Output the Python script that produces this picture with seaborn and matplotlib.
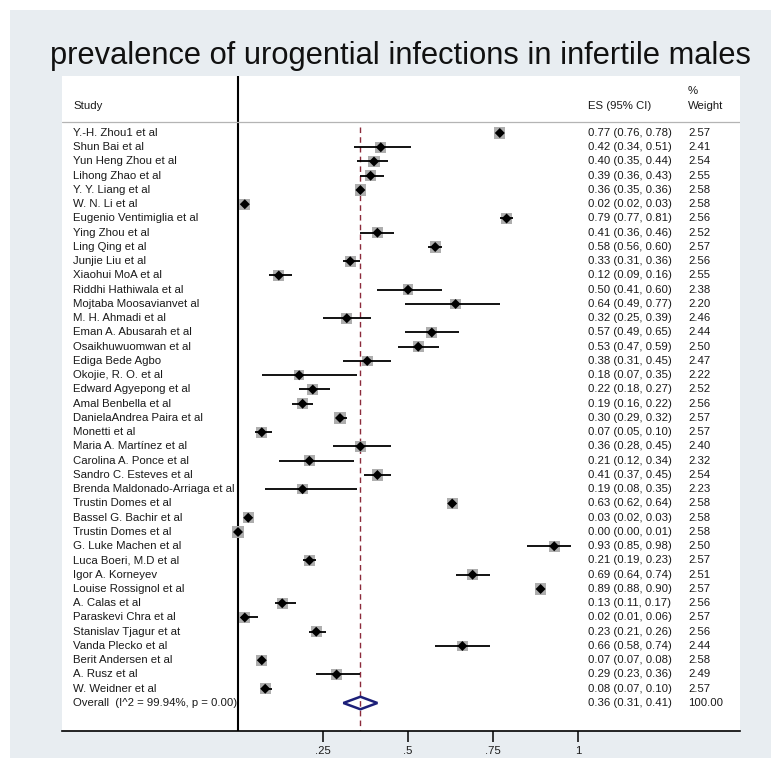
import numpy as np
import pandas as pd
import matplotlib
matplotlib.use("Agg")
import matplotlib.pyplot as plt
from matplotlib.patches import Polygon, Rectangle
import seaborn as sns

# ---------------- data ----------------
studies = [
    "Y.-H. Zhou1 et al", "Shun Bai et al", "Yun Heng Zhou et al", "Lihong Zhao et al",
    "Y. Y. Liang et al", "W. N. Li et al", "Eugenio Ventimiglia et al", "Ying Zhou et al",
    "Ling Qing et al", "Junjie Liu et al", "Xiaohui MoA et al", "Riddhi Hathiwala et al",
    "Mojtaba Moosavianvet al", "M. H. Ahmadi et al", "Eman A. Abusarah et al",
    "Osaikhuwuomwan et al", "Ediga Bede Agbo", "Okojie, R. O. et al", "Edward Agyepong et al",
    "Amal Benbella et al", "DanielaAndrea Paira et al", "Monetti et al",
    "Maria A. Martínez et al", "Carolina A. Ponce et al", "Sandro C. Esteves et al",
    "Brenda Maldonado-Arriaga et al", "Trustin Domes et al", "Bassel G. Bachir et al",
    "Trustin Domes et al", "G. Luke Machen et al", "Luca Boeri, M.D et al", "Igor A. Korneyev",
    "Louise Rossignol et al", "A. Calas et al", "Paraskevi Chra et al", "Stanislav Tjagur et at",
    "Vanda Plecko et al", "Berit Andersen et al", "A. Rusz et al", "W. Weidner et al",
]
es = [0.77, 0.42, 0.40, 0.39, 0.36, 0.02, 0.79, 0.41, 0.58, 0.33, 0.12, 0.50, 0.64, 0.32,
      0.57, 0.53, 0.38, 0.18, 0.22, 0.19, 0.30, 0.07, 0.36, 0.21, 0.41, 0.19, 0.63, 0.03,
      0.00, 0.93, 0.21, 0.69, 0.89, 0.13, 0.02, 0.23, 0.66, 0.07, 0.29, 0.08]
ci_low = [0.76, 0.34, 0.35, 0.36, 0.35, 0.02, 0.77, 0.36, 0.56, 0.31, 0.09, 0.41, 0.49, 0.25,
          0.49, 0.47, 0.31, 0.07, 0.18, 0.16, 0.29, 0.05, 0.28, 0.12, 0.37, 0.08, 0.62, 0.02,
          0.00, 0.85, 0.19, 0.64, 0.88, 0.11, 0.01, 0.21, 0.58, 0.07, 0.23, 0.07]
ci_high = [0.78, 0.51, 0.44, 0.43, 0.36, 0.03, 0.81, 0.46, 0.60, 0.36, 0.16, 0.60, 0.77, 0.39,
           0.65, 0.59, 0.45, 0.35, 0.27, 0.22, 0.32, 0.10, 0.45, 0.34, 0.45, 0.35, 0.64, 0.03,
           0.01, 0.98, 0.23, 0.74, 0.90, 0.17, 0.06, 0.26, 0.74, 0.08, 0.36, 0.10]
weights = [2.57, 2.41, 2.54, 2.55, 2.58, 2.58, 2.56, 2.52, 2.57, 2.56, 2.55, 2.38, 2.20, 2.46,
           2.44, 2.50, 2.47, 2.22, 2.52, 2.56, 2.57, 2.57, 2.40, 2.32, 2.54, 2.23, 2.58, 2.58,
           2.58, 2.50, 2.57, 2.51, 2.57, 2.56, 2.57, 2.56, 2.44, 2.58, 2.49, 2.57]
overall_label = "Overall  (I^2 = 99.94%, p = 0.00)"
overall_es, overall_low, overall_high, overall_weight = 0.36, 0.31, 0.41, 100.00
title = "prevalence of urogential infections in infertile males"
xtick_values = [0.25, 0.5, 0.75, 1.0]
xtick_labels = [".25", ".5", ".75", "1"]

df = pd.DataFrame({"study": studies, "es": es, "lo": ci_low, "hi": ci_high, "w": weights})
df["row"] = np.arange(len(df))
overall_row = len(df)

# ---------------- style ----------------
sns.set_style("white")
plt.rcParams["font.family"] = ["Liberation Sans", "DejaVu Sans"]
plt.rcParams["xtick.bottom"] = True
FS = 8.2
TXT = "#1a1a1a"

W, H = 771, 758
fig = plt.figure(figsize=(W / 100, H / 100), dpi=100, facecolor="white")
# grey page background
fig.patches.append(Rectangle((10 / W, 0), 1 - 10 / W, 1 - 10 / H, transform=fig.transFigure,
                             facecolor="#e8edf1", edgecolor="none", zorder=-10))

ax_left, ax_right, ax_top, ax_bottom = 62, 740, 76, 731
ax = fig.add_axes([ax_left / W, 1 - ax_bottom / H, (ax_right - ax_left) / W, (ax_bottom - ax_top) / H])
ax.set_facecolor("white")

x0_px, x1_px = 238, 578          # pixel positions of 0 and 1
scale = x1_px - x0_px
ax.set_xlim((ax_left - x0_px) / scale, (ax_right - x0_px) / scale)
ax.set_ylim(overall_row + 1.965, -4.0)

# null line and overall dashed line
ax.axvline(0, color="black", lw=1.5, zorder=2)
ax.plot([overall_es, overall_es], [-0.45, overall_row + 1.965], color="#8b2b3b",
        lw=1.0, dashes=(4, 3), zorder=1)

# header divider
ax.axhline(-0.74, color="#b4b4b4", lw=0.9)

# confidence intervals
ax.hlines(df["row"], df["lo"], df["hi"], color="black", lw=1.3, zorder=4)

# weight boxes and point estimates
sns.scatterplot(data=df, x="es", y="row", marker="s", s=df["w"] * 25, color="#aeaeae",
                edgecolor="none", ax=ax, zorder=3, legend=False, clip_on=False)
sns.scatterplot(data=df, x="es", y="row", marker="D", s=26, color="black",
                edgecolor="none", ax=ax, zorder=5, legend=False, clip_on=False)

# overall diamond
dh = 0.44
ax.add_patch(Polygon([(overall_low, overall_row), (overall_es, overall_row - dh),
                      (overall_high, overall_row), (overall_es, overall_row + dh)],
                     closed=True, fill=False, edgecolor="#1c1f78", lw=1.8, zorder=6))

# text columns
lab_x = (73 - x0_px) / scale
es_x = (588 - x0_px) / scale
w_x = (688 - x0_px) / scale
hdr_row = -1.89
ax.text(lab_x, hdr_row, "Study", fontsize=FS, va="center", ha="left", color=TXT)
ax.text(es_x, hdr_row, "ES (95% CI)", fontsize=FS, va="center", ha="left", color=TXT)
ax.text(w_x, hdr_row - 1.06, "%", fontsize=FS, va="center", ha="left", color=TXT)
ax.text(w_x, hdr_row, "Weight", fontsize=FS, va="center", ha="left", color=TXT)

for _, r in df.iterrows():
    ax.text(lab_x, r["row"], r["study"], fontsize=FS, va="center", ha="left", color=TXT)
    ax.text(es_x, r["row"], f"{r['es']:.2f} ({r['lo']:.2f}, {r['hi']:.2f})",
            fontsize=FS, va="center", ha="left", color=TXT)
    ax.text(w_x, r["row"], f"{r['w']:.2f}", fontsize=FS, va="center", ha="left", color=TXT)

ax.text(lab_x, overall_row, overall_label, fontsize=FS, va="center", ha="left", color=TXT)
ax.text(es_x, overall_row, f"{overall_es:.2f} ({overall_low:.2f}, {overall_high:.2f})",
        fontsize=FS, va="center", ha="left", color=TXT)
ax.text(w_x, overall_row, f"{overall_weight:.2f}", fontsize=FS, va="center", ha="left", color=TXT)

# axes styling
for s in ["top", "left", "right"]:
    ax.spines[s].set_visible(False)
ax.spines["bottom"].set_color("black")
ax.spines["bottom"].set_linewidth(1.2)
ax.set_xticks(xtick_values)
ax.set_xticklabels(xtick_labels, fontsize=FS, color=TXT)
ax.tick_params(axis="x", which="major", bottom=True, direction="out", length=8, width=1.1,
               pad=3, color="black")
ax.set_yticks([])
ax.set_xlabel("")
ax.set_ylabel("")

fig.text(400 / W, 1 - 64 / H, title, fontsize=22.2, ha="center", va="baseline", color="#111111")

fig.savefig("out.png", dpi=100, facecolor=fig.get_facecolor())
